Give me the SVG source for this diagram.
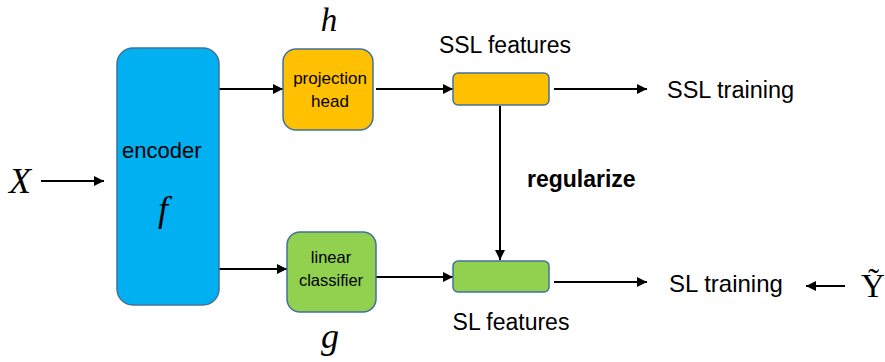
<svg xmlns="http://www.w3.org/2000/svg" width="885" height="362" viewBox="0 0 885 362">
<style>
.box{stroke:#41719C;stroke-width:1.5}
.t{font-family:"Liberation Sans",Arial,sans-serif;fill:#000}
.m{font-family:"Liberation Serif","DejaVu Serif",serif;font-style:italic;fill:#000}
.c{stroke:#000;stroke-width:2;fill:none;marker-end:url(#ah)}
</style>
<defs>
<marker id="ah" viewBox="0 0 10 10" refX="10" refY="5" markerWidth="5.5" markerHeight="5" markerUnits="strokeWidth" orient="auto">
<path d="M0,0 L10,5 L0,10 z" fill="#000"/>
</marker>
</defs>
<rect width="885" height="362" fill="#fff"/>
<g id="connectors">
<line class="c" x1="41" y1="181" x2="104" y2="181"/>
<line class="c" x1="219" y1="89" x2="283" y2="89"/>
<line class="c" x1="219" y1="269" x2="287" y2="269"/>
<line class="c" x1="376" y1="89" x2="453" y2="89"/>
<line class="c" x1="376" y1="277" x2="453" y2="277"/>
<line class="c" x1="554" y1="89" x2="647" y2="89"/>
<line class="c" x1="554" y1="282" x2="647" y2="282"/>
<line class="c" x1="500" y1="106" x2="500" y2="260"/>
<line class="c" x1="845" y1="286" x2="806" y2="286"/>
</g>
<g id="input-X"><text class="m" x="9" y="193" font-size="36">X</text></g>
<g id="encoder">
<rect class="box" x="117" y="48" width="102" height="257" rx="16" fill="#00B0F0"/>
<text class="t" x="122" y="158" font-size="22">encoder</text>
<text class="m" x="158" y="221" font-size="36">f</text>
</g>
<g id="projection-head">
<rect class="box" x="283" y="49" width="90" height="81" rx="13" fill="#FFC000"/>
<text class="t" x="330" y="84" font-size="17" text-anchor="middle">projection</text>
<text class="t" x="330" y="107" font-size="17" text-anchor="middle">head</text>
<text class="m" x="329" y="31" font-size="33" text-anchor="middle">h</text>
</g>
<g id="linear-classifier">
<rect class="box" x="287" y="232" width="89" height="80" rx="13" fill="#92D050"/>
<text class="t" x="331" y="263" font-size="16.5" text-anchor="middle">linear</text>
<text class="t" x="331" y="286" font-size="16.5" text-anchor="middle">classifier</text>
<text class="m" x="330" y="348" font-size="36" text-anchor="middle">g</text>
</g>
<g id="ssl-features">
<rect class="box" x="453" y="73" width="96" height="32" rx="5" fill="#FFC000"/>
<text class="t" x="505" y="53" font-size="23" text-anchor="middle">SSL features</text>
</g>
<g id="sl-features">
<rect class="box" x="453" y="261" width="96" height="31" rx="5" fill="#92D050"/>
<text class="t" x="511" y="330" font-size="23" text-anchor="middle">SL features</text>
</g>
<g id="regularize"><text class="t" x="527" y="187" font-size="23" font-weight="bold">regularize</text></g>
<g id="ssl-training"><text class="t" x="667" y="98" font-size="23.5">SSL training</text></g>
<g id="sl-training"><text class="t" x="669" y="292" font-size="24">SL training</text></g>
<g id="label-Y"><text x="861" y="297" font-size="33" font-family="'Liberation Serif','DejaVu Serif',serif">Ỹ</text></g>
</svg>
